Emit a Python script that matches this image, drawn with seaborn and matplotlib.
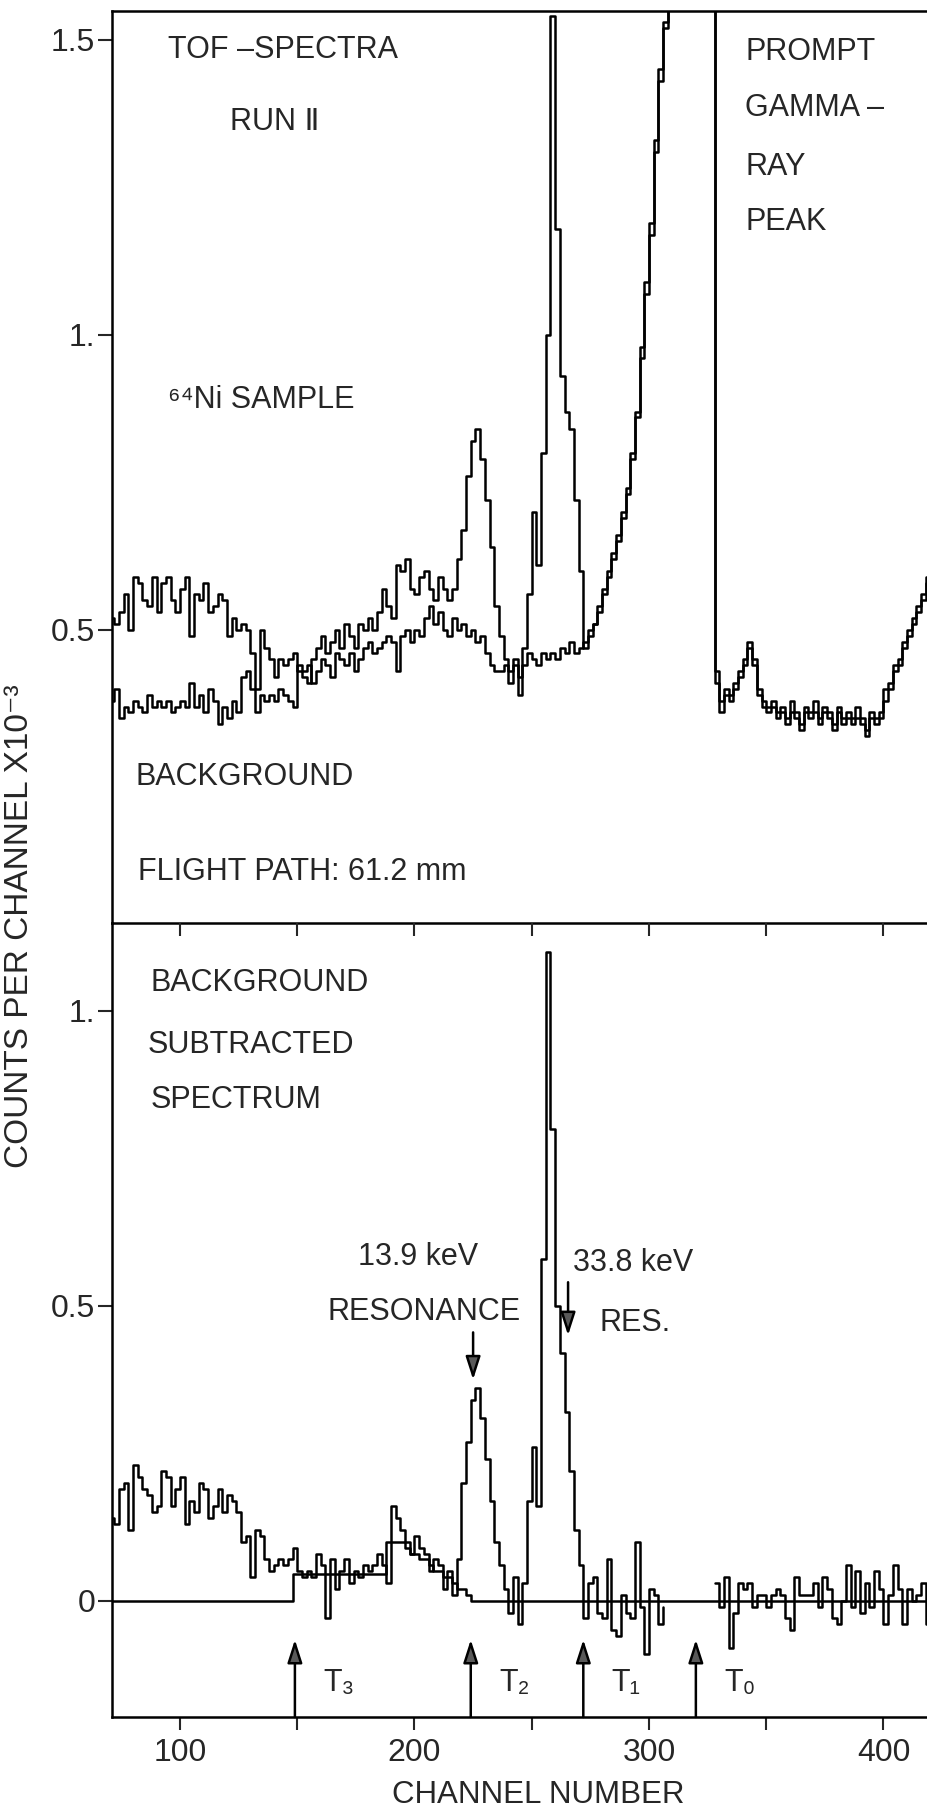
import numpy as np
import pandas as pd
import matplotlib
matplotlib.use("Agg")
import matplotlib.pyplot as plt
import seaborn as sns

sns.set_style("ticks")
plt.rcParams['font.family'] = ['Liberation Sans', 'DejaVu Sans']
narrow = ['Liberation Sans Narrow', 'Liberation Sans', 'DejaVu Sans']

# channel number at the left edge of each 2-channel bin
channels = list(range(70, 422, 2))

# upper panel, counts per channel x1e-3 (3.0 = off scale, prompt gamma peak)
sample = [
    0.52, 0.51, 0.53, 0.56, 0.50, 0.59, 0.58, 0.55, 0.54, 0.59,
    0.53, 0.58, 0.59, 0.55, 0.53, 0.57, 0.59, 0.49, 0.56, 0.55,
    0.58, 0.53, 0.54, 0.56, 0.55, 0.49, 0.52, 0.50, 0.51, 0.50,
    0.46, 0.40, 0.50, 0.47, 0.45, 0.42, 0.45, 0.44, 0.45, 0.46,
    0.43, 0.42, 0.41, 0.45, 0.47, 0.49, 0.46, 0.48, 0.50, 0.47,
    0.51, 0.49, 0.47, 0.51, 0.50, 0.52, 0.50, 0.53, 0.57, 0.54,
    0.52, 0.61, 0.60, 0.62, 0.57, 0.56, 0.59, 0.60, 0.57, 0.55,
    0.59, 0.57, 0.55, 0.57, 0.62, 0.67, 0.76, 0.82, 0.84, 0.79,
    0.72, 0.64, 0.54, 0.49, 0.45, 0.43, 0.44, 0.42, 0.47, 0.56,
    0.70, 0.61, 0.80, 1.00, 1.54, 1.18, 0.93, 0.87, 0.84, 0.72,
    0.60, 0.47, 0.50, 0.51, 0.54, 0.57, 0.60, 0.63, 0.66, 0.70,
    0.74, 0.80, 0.87, 0.98, 1.09, 1.19, 1.33, 1.45, 1.53, 3.00,
    3.00, 3.00, 3.00, 3.00, 3.00, 3.00, 3.00, 3.00, 3.00, 0.43,
    0.38, 0.40, 0.39, 0.41, 0.43, 0.45, 0.48, 0.44, 0.40, 0.38,
    0.37, 0.38, 0.36, 0.37, 0.35, 0.38, 0.36, 0.34, 0.37, 0.36,
    0.38, 0.35, 0.37, 0.36, 0.34, 0.37, 0.35, 0.36, 0.35, 0.37,
    0.35, 0.33, 0.36, 0.35, 0.36, 0.40, 0.41, 0.44, 0.45, 0.48,
    0.50, 0.52, 0.54, 0.56, 0.59, 0.61,
]
background = [
    0.38, 0.40, 0.35, 0.37, 0.36, 0.38, 0.37, 0.36, 0.39, 0.37,
    0.38, 0.37, 0.38, 0.36, 0.37, 0.38, 0.37, 0.41, 0.37, 0.39,
    0.36, 0.40, 0.38, 0.34, 0.37, 0.35, 0.38, 0.36, 0.42, 0.43,
    0.40, 0.36, 0.39, 0.38, 0.39, 0.38, 0.40, 0.39, 0.38, 0.37,
    0.44, 0.43, 0.44, 0.41, 0.43, 0.45, 0.44, 0.42, 0.46, 0.45,
    0.44, 0.46, 0.43, 0.45, 0.47, 0.48, 0.46, 0.47, 0.48, 0.49,
    0.48, 0.43, 0.49, 0.50, 0.48, 0.50, 0.49, 0.52, 0.54, 0.51,
    0.53, 0.50, 0.49, 0.52, 0.50, 0.51, 0.49, 0.50, 0.48, 0.49,
    0.46, 0.44, 0.43, 0.43, 0.44, 0.41, 0.45, 0.39, 0.44, 0.46,
    0.45, 0.44, 0.46, 0.45, 0.46, 0.45, 0.47, 0.46, 0.48, 0.46,
    0.47, 0.48, 0.49, 0.51, 0.53, 0.56, 0.59, 0.62, 0.65, 0.69,
    0.73, 0.79, 0.86, 0.96, 1.07, 1.17, 1.31, 1.43, 1.52, 3.00,
    3.00, 3.00, 3.00, 3.00, 3.00, 3.00, 3.00, 3.00, 3.00, 0.41,
    0.36, 0.39, 0.38, 0.40, 0.42, 0.44, 0.47, 0.45, 0.39, 0.37,
    0.36, 0.37, 0.35, 0.36, 0.34, 0.36, 0.35, 0.33, 0.36, 0.35,
    0.36, 0.34, 0.36, 0.35, 0.33, 0.36, 0.34, 0.35, 0.34, 0.35,
    0.34, 0.32, 0.35, 0.34, 0.35, 0.38, 0.40, 0.43, 0.44, 0.47,
    0.49, 0.51, 0.53, 0.55, 0.58, 0.60,
]

# lower panel: background subtracted spectrum (no data under the gamma peak)
subtracted = [
    0.14, 0.13, 0.19, 0.20, 0.12, 0.23, 0.21, 0.19, 0.18, 0.15,
    0.16, 0.22, 0.21, 0.16, 0.19, 0.21, 0.13, 0.17, 0.15, 0.20,
    0.19, 0.14, 0.16, 0.19, 0.15, 0.18, 0.17, 0.15, 0.10, 0.11,
    0.04, 0.12, 0.11, 0.07, 0.05, 0.06, 0.07, 0.06, 0.07, 0.09,
    0.05, 0.04, 0.05, 0.04, 0.08, 0.06, -0.03, 0.07, 0.02, 0.05,
    0.07, 0.03, 0.05, 0.04, 0.06, 0.05, 0.06, 0.08, 0.06, 0.03,
    0.16, 0.14, 0.12, 0.10, 0.08, 0.11, 0.09, 0.08, 0.05, 0.07,
    0.06, 0.02, 0.05, 0.01, 0.07, 0.20, 0.27, 0.34, 0.36, 0.31,
    0.24, 0.17, 0.10, 0.06, 0.02, -0.02, 0.04, -0.04, 0.03, 0.17,
    0.26, 0.16, 0.58, 1.10, 0.80, 0.50, 0.42, 0.32, 0.22, 0.12,
    0.06, -0.03, 0.03, 0.04, -0.02, -0.03, 0.07, -0.05, -0.06, 0.01,
    -0.02, -0.03, 0.10, -0.01, -0.09, 0.02, 0.01, -0.04, -0.01, np.nan,
    np.nan, np.nan, np.nan, np.nan, np.nan, np.nan, np.nan, np.nan, np.nan, 0.03,
    -0.01, 0.04, -0.08, -0.02, 0.03, 0.02, 0.03, -0.01, 0.01, 0.01,
    -0.01, 0.01, 0.02, 0.01, -0.03, -0.05, 0.04, 0.01, 0.01, 0.01,
    0.03, -0.01, 0.04, 0.02, -0.03, -0.04, 0.00, 0.06, -0.01, 0.05,
    -0.02, 0.03, -0.01, 0.05, 0.02, -0.04, 0.01, 0.06, 0.02, -0.04,
    0.02, 0.00, 0.01, 0.03, -0.04, 0.02,
]
# second (smooth) trace of the lower panel
reference_line = (
    [0.0] * 39
    + [0.045] * 20
    + [0.10, 0.10, 0.10, 0.10, 0.09]
    + [0.08, 0.08, 0.07, 0.07, 0.06, 0.05, 0.05, 0.04, 0.04]
    + [0.03, 0.02, 0.02, 0.01]
    + [0.0] * 99
)

t_channels = [149, 224, 272, 320]
t_labels = ['T\u2083', 'T\u2082', 'T\u2081', 'T\u2080']

df = pd.DataFrame({
    'channel': channels,
    'sample': sample,
    'background': background,
    'subtracted': subtracted,
    'reference': reference_line,
})

W, H = 928, 1812
fig = plt.figure(figsize=(W / 100, H / 100), dpi=100)
ax_top = fig.add_axes([112 / W, (H - 923) / H, (W - 112) / W, 912 / H])
ax_bot = fig.add_axes([112 / W, (H - 1717) / H, (W - 112) / W, 794 / H])
ax_bot.patch.set_alpha(0)
ax_top.set_zorder(2)
ax_top.patch.set_alpha(0)

line_kw = dict(color='black', lw=1.8, drawstyle='steps-post', estimator=None,
               sort=False, legend=False)

for col in ['sample', 'background']:
    sns.lineplot(data=df, x='channel', y=col, ax=ax_top, **line_kw)

left_part = df[df['channel'] <= 306]
right_part = df[df['channel'] >= 328]
sns.lineplot(data=left_part, x='channel', y='subtracted', ax=ax_bot, **line_kw)
sns.lineplot(data=right_part, x='channel', y='subtracted', ax=ax_bot, **line_kw)
sns.lineplot(data=df, x='channel', y='reference', ax=ax_bot, **line_kw)

xlim = (71, 419)
ax_top.set_xlim(*xlim)
ax_bot.set_xlim(*xlim)
ax_top.set_ylim(0.003, 1.549)
ax_bot.set_ylim(-0.197, 1.149)

for ax in (ax_top, ax_bot):
    ax.set_xlabel('')
    ax.set_ylabel('')
    ax.spines['right'].set_visible(False)
    for s in ['left', 'top', 'bottom']:
        ax.spines[s].set_linewidth(1.8)
        ax.spines[s].set_color('black')
    ax.tick_params(axis='y', direction='out', length=10, width=1.5,
                   labelsize=23, pad=2, labelfontfamily=narrow)

ax_top.spines['bottom'].set_visible(False)
ax_top.set_yticks([0.5, 1.0, 1.5], ['0.5', '1.', '1.5'])
ax_top.set_xticks(list(range(100, 401, 50)))
ax_top.tick_params(axis='x', direction='out', length=9, width=1.5,
                   bottom=True, labelbottom=False, top=False)

ax_bot.set_yticks([0.0, 0.5, 1.0], ['0', '0.5', '1.'])
ax_bot.set_xticks(list(range(100, 401, 50)),
                  ['100', '', '200', '', '300', '', '400'])
ax_bot.tick_params(axis='x', direction='out', length=9, width=1.5,
                   bottom=True, top=False, labelsize=23, pad=6,
                   labelfontfamily=narrow)

# T markers
head = dict(arrowstyle='-|>,head_length=1.4,head_width=0.45', lw=1.8,
            color='black', fc='0.35', shrinkA=0, shrinkB=0)
for ch, lab in zip(t_channels, t_labels):
    ax_bot.annotate('', xy=(ch, -0.066), xytext=(ch, -0.197), arrowprops=head)
    ax_bot.text(ch + 12, -0.14, lab, fontsize=22, ha='left', va='center')

# resonance arrows
ax_bot.annotate('', xy=(225, 0.375), xytext=(225, 0.455), arrowprops=head)
ax_bot.annotate('', xy=(265.5, 0.45), xytext=(265.5, 0.54), arrowprops=head)

txt = dict(fontsize=22, ha='left', va='center')
ax_top.text(95, 1.483, 'TOF \u2013SPECTRA', **txt)
ax_top.text(121.5, 1.361, 'RUN \u2161', **txt)
ax_top.text(95, 0.890, '\u2076\u2074Ni SAMPLE', **txt)
ax_top.text(81, 0.251, 'BACKGROUND', **txt)
ax_top.text(82.3, 0.090, 'FLIGHT PATH: 61.2 mm', **txt)
ax_top.text(341, 1.480, 'PROMPT', **txt)
ax_top.text(341, 1.385, 'GAMMA \u2013', **txt)
ax_top.text(341, 1.285, 'RAY', **txt)
ax_top.text(341, 1.192, 'PEAK', **txt)

ax_bot.text(87.4, 1.047, 'BACKGROUND', **txt)
ax_bot.text(86.1, 0.942, 'SUBTRACTED', **txt)
ax_bot.text(87.4, 0.849, 'SPECTRUM', **txt)
ax_bot.text(175.8, 0.583, '13.9 keV', **txt)
ax_bot.text(163, 0.490, 'RESONANCE', **txt)
ax_bot.text(267.6, 0.573, '33.8 keV', **txt)
ax_bot.text(279, 0.471, 'RES.', **txt)

fig.text(20 / W, (H - 926) / H, 'COUNTS PER CHANNEL X10\u207b\u00b3',
         rotation=90, ha='center', va='center', fontsize=24)
fig.text(538 / W, 17 / H, 'CHANNEL NUMBER', ha='center', va='center',
         fontsize=22.5)

fig.savefig('out.png', dpi=100)
